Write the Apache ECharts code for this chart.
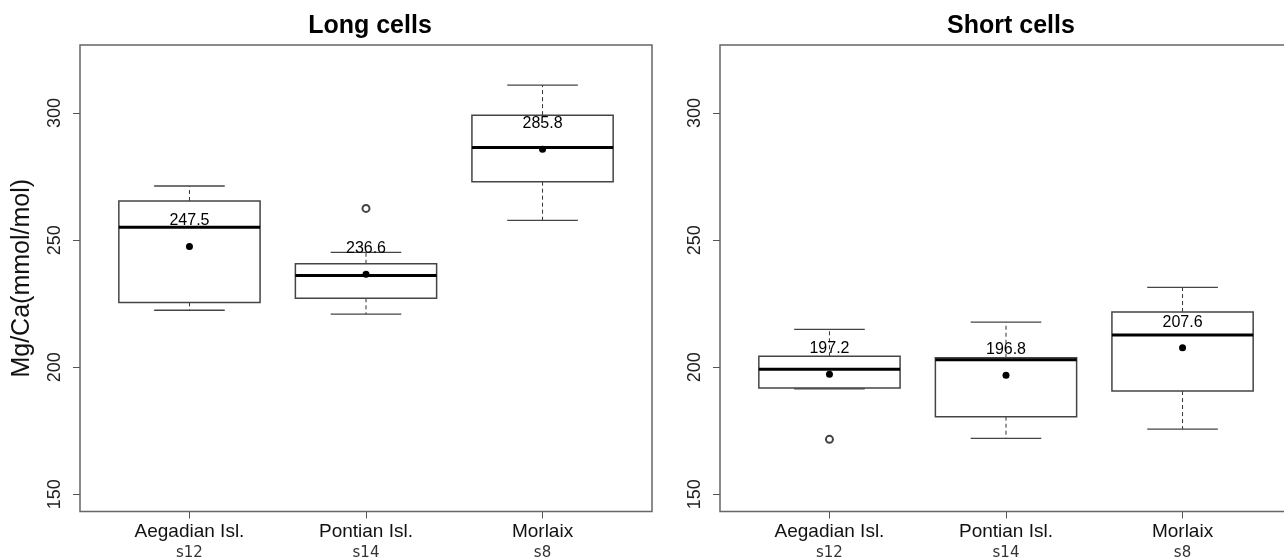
<!DOCTYPE html>
<html>
<head>
<meta charset="utf-8">
<script src="https://cdn.jsdelivr.net/npm/echarts@6/dist/echarts.min.js"></script>
<style>html,body{margin:0;padding:0;background:#fff}#c{width:1284px;height:560px}</style>
</head>
<body>
<div id="c"></div>
<script>
// ---- data ----
const categories = ['Aegadian Isl.', 'Pontian Isl.', 'Morlaix'];
const sampleSizes = ['s12', 's14', 's8'];
const panelTitles = ['Long cells', 'Short cells'];
const yTicks = [150, 200, 250, 300];

const longLow    = [222.4, 220.9, 257.8];
const longQ1     = [225.5, 227.1, 273.0];
const longMedian = [255.1, 236.1, 286.5];
const longQ3     = [265.4, 240.7, 299.2];
const longHigh   = [271.3, 245.2, 311.0];
const longMean   = [247.5, 236.6, 285.8];
const longOutliers = [[2, 262.5]];

const shortLow    = [191.5, 172.0, 175.6];
const shortQ1     = [191.8, 180.5, 190.6];
const shortMedian = [199.2, 202.9, 212.7];
const shortQ3     = [204.3, 203.7, 221.7];
const shortHigh   = [214.9, 217.7, 231.4];
const shortMean   = [197.2, 196.8, 207.6];
const shortOutliers = [[1, 171.6]];

const FONT = 'Liberation Sans, Arial, sans-serif';

function boxData(low, q1, med, q3, high) {
  return categories.map((c, i) => [i + 1, low[i], q1[i], med[i], q3[i], high[i]]);
}
function meanData(mean) { return mean.map((m, i) => [i + 1, m]); }

function renderBox(params, api) {
  const x = api.value(0);
  const c = v => api.coord([x, v]);
  const pLow = c(api.value(1)), pQ1 = c(api.value(2)), pMed = c(api.value(3)),
        pQ3 = c(api.value(4)), pHigh = c(api.value(5));
  const half = api.size([0.4, 0])[0];
  const capHalf = api.size([0.2, 0])[0];
  const cx = pLow[0];
  const dash = { stroke: '#333', lineWidth: 1, lineDash: [4, 3] };
  const solid = { stroke: '#444', lineWidth: 1.3 };
  return {
    type: 'group',
    children: [
      { type: 'line', shape: { x1: cx, y1: pQ3[1], x2: cx, y2: pHigh[1] }, style: dash },
      { type: 'line', shape: { x1: cx, y1: pQ1[1], x2: cx, y2: pLow[1] }, style: dash },
      { type: 'line', shape: { x1: cx - capHalf, y1: pHigh[1], x2: cx + capHalf, y2: pHigh[1] }, style: solid },
      { type: 'line', shape: { x1: cx - capHalf, y1: pLow[1], x2: cx + capHalf, y2: pLow[1] }, style: solid },
      { type: 'rect', shape: { x: cx - half, y: pQ3[1], width: 2 * half, height: pQ1[1] - pQ3[1] },
        style: { fill: '#fff', stroke: '#444', lineWidth: 1.5 } },
      { type: 'line', shape: { x1: cx - half, y1: pMed[1], x2: cx + half, y2: pMed[1] },
        style: { stroke: '#000', lineWidth: 3 } }
    ]
  };
}

const grids = [
  { left: 80, top: 45, width: 572, height: 466.5 },
  { left: 720, top: 45, width: 572, height: 466.5 }
].map(g => Object.assign(g, { show: true, borderColor: '#666', borderWidth: 1.5,
  backgroundColor: 'transparent', containLabel: false, outerBoundsMode: 'none' }));

const xAxes = [0, 1].map(i => ({
  type: 'value', gridIndex: i, min: 0.38, max: 3.62,
  axisLine: { show: false }, splitLine: { show: false },
  axisTick: { show: true, customValues: [1, 2, 3], length: 7, lineStyle: { color: '#555', width: 1 } },
  axisLabel: {
    show: true, customValues: [1, 2, 3], margin: 9,
    formatter: v => '{c|' + categories[v - 1] + '}\n{s|' + sampleSizes[v - 1] + '}',
    rich: {
      c: { fontSize: 19, fontFamily: FONT, color: '#111', lineHeight: 22 },
      s: { fontSize: 15, fontFamily: 'DejaVu Sans, sans-serif', color: '#333', lineHeight: 22 }
    }
  }
}));

const yAxes = [0, 1].map(i => ({
  type: 'value', gridIndex: i, min: 143.2, max: 326.8,
  axisLine: { show: false }, splitLine: { show: false },
  axisTick: { show: true, customValues: yTicks, length: 7, lineStyle: { color: '#555', width: 1 } },
  axisLabel: { show: true, customValues: yTicks, rotate: 90, margin: 16, fontSize: 18, fontFamily: FONT, color: '#222' },
  name: i === 0 ? 'Mg/Ca(mmol/mol)' : '',
  nameLocation: 'middle', nameRotate: 90, nameGap: 45,
  nameTextStyle: { fontSize: 25, fontFamily: FONT, color: '#111' }
}));

function panelSeries(idx, low, q1, med, q3, high, mean, outliers) {
  return [
    { type: 'custom', xAxisIndex: idx, yAxisIndex: idx, renderItem: renderBox,
      encode: { x: 0, y: [1, 2, 3, 4, 5] }, data: boxData(low, q1, med, q3, high), z: 2 },
    { type: 'scatter', xAxisIndex: idx, yAxisIndex: idx, data: outliers,
      symbol: 'emptyCircle', symbolSize: 7, itemStyle: { color: '#444', borderWidth: 1, opacity: 1 }, z: 3 },
    { type: 'scatter', xAxisIndex: idx, yAxisIndex: idx, data: meanData(mean),
      symbol: 'circle', symbolSize: 7, itemStyle: { color: '#000', opacity: 1 }, z: 4,
      label: { show: true, position: 'top', distance: 14, formatter: p => p.value[1].toFixed(1),
               fontSize: 16, fontFamily: FONT, color: '#000' } }
  ];
}

const option = {
  animation: false,
  backgroundColor: '#fff',
  title: [
    { text: panelTitles[0], left: 365, top: 9, textAlign: 'center',
      textStyle: { fontSize: 25, fontWeight: 'bold', fontFamily: FONT, color: '#000' } },
    { text: panelTitles[1], left: 1006, top: 9, textAlign: 'center',
      textStyle: { fontSize: 25, fontWeight: 'bold', fontFamily: FONT, color: '#000' } }
  ],
  grid: grids,
  xAxis: xAxes,
  yAxis: yAxes,
  series: [].concat(
    panelSeries(0, longLow, longQ1, longMedian, longQ3, longHigh, longMean, longOutliers),
    panelSeries(1, shortLow, shortQ1, shortMedian, shortQ3, shortHigh, shortMean, shortOutliers)
  )
};

const chart = echarts.init(document.getElementById('c'), null, { renderer: 'canvas' });
chart.setOption(option);
</script>
</body>
</html>
